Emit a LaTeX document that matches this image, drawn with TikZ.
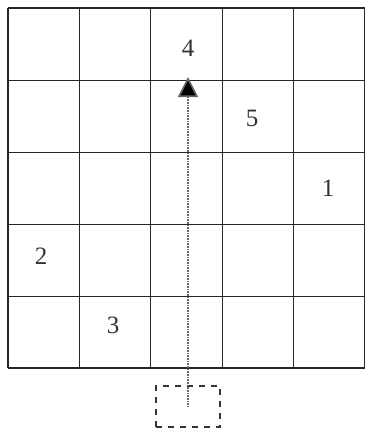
\documentclass[tikz,border=0pt]{standalone}
\usepackage{fontspec}
\setmainfont{Liberation Serif}
\usetikzlibrary{arrows.meta}
\tikzset{
  gridline/.style={line width=1.3pt, draw=black!85},
  numlabel/.style={font=\fontsize{25}{30}\selectfont, text=black!80, inner sep=0pt},
  startbox/.style={draw=black!80, line width=1.2pt, dash pattern=on 6pt off 6pt, minimum width=64pt, minimum height=41pt, inner sep=0pt},
  pathline/.style={draw=black!60, line width=1.6pt, dash pattern=on 0.8pt off 0.8pt, -{Triangle[width=20pt,length=20pt,fill=black]}}
}
\begin{document}
\begin{tikzpicture}[x=1pt,y=-1pt]
\useasboundingbox (0,0) rectangle (365,434);
\fill[white] (0,0) rectangle (365,434);
% grid
\foreach \x in {8,79.4,150.8,222.2,293.6,364.4} {
  \draw[gridline] (\x,8) -- (\x,368);
}
\foreach \y in {8,80.5,152.5,224.5,296.5,368} {
  \draw[gridline] (8,\y) -- (365,\y);
}
% labels
\node[numlabel] (n4) at (188,48) {4};
\node[numlabel] (n5) at (252,118) {5};
\node[numlabel] (n1) at (328,188) {1};
\node[numlabel] (n2) at (41,256) {2};
\node[numlabel] (n3) at (113,325) {3};
% start box and path
\node[startbox] (start) at (188,406.5) {};
\coordinate (target) at (188,77);
\draw[pathline] (start.center) -- (target);
\end{tikzpicture}
\end{document}
